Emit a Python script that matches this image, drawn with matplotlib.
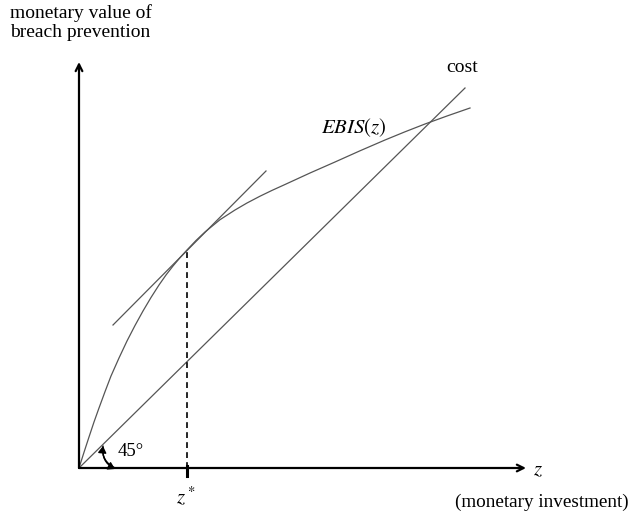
import matplotlib
matplotlib.use("Agg")
import matplotlib.pyplot as plt
from matplotlib.patches import FancyArrowPatch

plt.rcParams["mathtext.fontset"] = "stix"

# Data (conceptual units; origin at the axes corner)
ebis_z = [0, 5, 10, 15, 20, 26, 32, 40, 48, 56, 64, 72, 80, 87, 94, 101, 108, 117, 126,
          141, 156, 168, 181, 193, 206, 231, 256, 281, 306, 326, 346, 368, 391]
ebis_v = [0, 15.7, 31, 46, 60, 76.3, 92, 110, 127, 142.5, 157, 170.5, 183, 193, 202, 210.3,
          218, 227.5, 236, 248.3, 258, 265, 271.8, 277.6, 283.5, 295, 306, 317.2, 328,
          336.2, 344, 352, 360]
cost_z = [0, 386]
cost_v = [0, 380]
tangent_z = [34, 187]
tangent_v = [143, 297]
z_star = 108
ebis_at_z_star = 218

fig = plt.figure(figsize=(6.29, 5.18), dpi=100)
ax = fig.add_axes([0, 0, 1, 1])
ax.set_xlim(-79, 550)
ax.set_ylim(-50, 468)
ax.axis("off")

serif = ["Liberation Serif", "DejaVu Serif"]
curve_col = "#555555"

# axes arrows
ax.annotate("", xy=(0, 406), xytext=(0, 0),
            arrowprops=dict(arrowstyle="->", lw=1.6, color="black", shrinkA=0, shrinkB=0,
                            mutation_scale=12))
ax.annotate("", xy=(447, 0), xytext=(0, 0),
            arrowprops=dict(arrowstyle="->", lw=1.6, color="black", shrinkA=0, shrinkB=0,
                            mutation_scale=12))

# curves
ax.plot(cost_z, cost_v, color=curve_col, lw=0.9)
ax.plot(ebis_z, ebis_v, color=curve_col, lw=0.9, solid_joinstyle="round")
ax.plot(tangent_z, tangent_v, color=curve_col, lw=0.9)

# dashed vertical at z*
ax.plot([z_star, z_star], [0, ebis_at_z_star], color="black", lw=1.2, ls=(0, (3.5, 2.5)))
ax.plot([z_star, z_star], [-8, 2], color="black", lw=2.2)

# 45 degree arc
arc = FancyArrowPatch((36, 0), (24, 22), connectionstyle="arc3,rad=-0.35",
                      arrowstyle="-|>,head_length=4,head_width=2.5", color="black", lw=1.0,
                      shrinkA=0, shrinkB=0)
ax.add_patch(arc)
arc2 = FancyArrowPatch((24, 22), (36, -1), connectionstyle="arc3,rad=0.35",
                       arrowstyle="-|>,head_length=4,head_width=2.5", color="black", lw=1.0,
                       shrinkA=0, shrinkB=0)
ax.add_patch(arc2)

# texts
ax.text(-69, 464, "monetary value of\nbreach prevention", family=serif, fontsize=14,
        ha="left", va="top", linespacing=1.15)
ax.text(383, 400, "cost", family=serif, fontsize=14, ha="center", va="center")
ax.text(275, 340, r"$EBIS(z)$", fontsize=15, ha="center", va="center")
ax.text(459, -1, r"$z$", fontsize=15, ha="center", va="center")
ax.text(463, -34, "(monetary investment)", family=serif, fontsize=13.8, ha="center", va="center")
ax.text(z_star - 1, -28, r"$z^*$", fontsize=15, ha="center", va="center")
ax.text(52, 17, "45°", family=serif, fontsize=13.5, ha="center", va="center")

fig.savefig("out.png", dpi=100)
